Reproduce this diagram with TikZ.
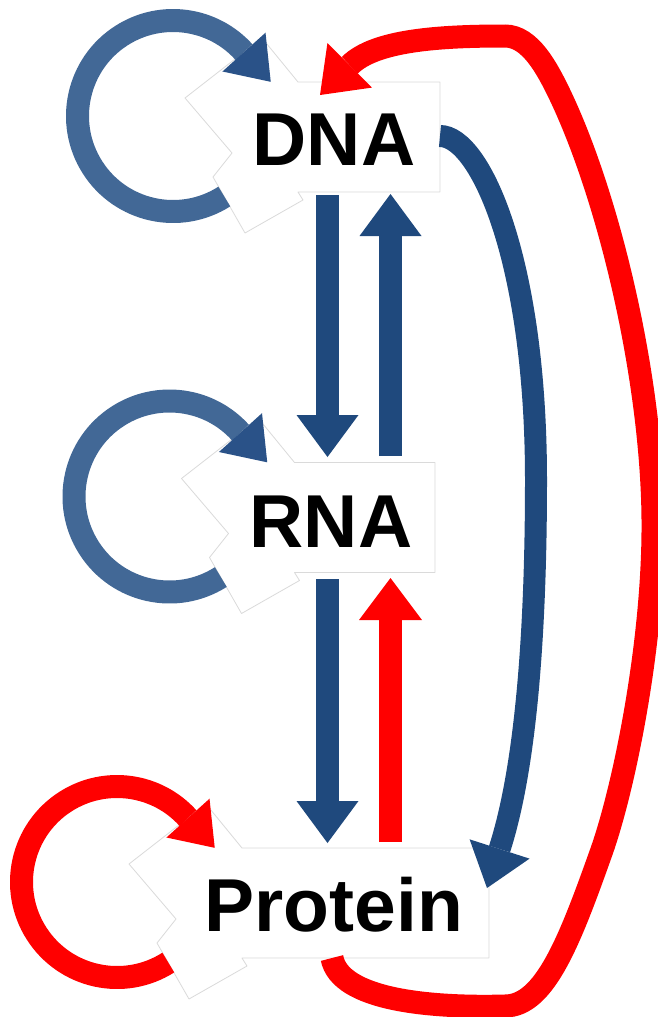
\documentclass[tikz,border=0pt]{standalone}
\usepackage{fontspec}
\setmainfont{Liberation Sans}
\usetikzlibrary{arrows.meta,calc}
\definecolor{dblue}{RGB}{31,73,125}
\definecolor{lblue}{RGB}{66,104,150}
\definecolor{lbluehead}{RGB}{42,82,136}
\definecolor{pred}{RGB}{255,0,0}
\definecolor{edgegray}{RGB}{218,218,218}
\begin{document}
\begin{tikzpicture}[x=1pt,y=-1pt,
  lab/.style={font=\fontsize{75}{80}\selectfont\bfseries, inner sep=0pt, anchor=base west, text=black},
  outline/.style={fill=white, draw=edgegray, line width=0.8pt, line join=round},
  thick23/.style={line width=23pt},
  bluehead/.style={-{Triangle[length=42pt,width=62pt,line width=0pt]}},
  redhead/.style={-{Triangle[length=42pt,width=63pt,line width=0pt]}},
  loophead/.style={-{Triangle[length=40pt,width=58pt,line width=0pt,color=#1]}}
]
\useasboundingbox (0,0) rectangle (657,1017);

% loop centres
\coordinate (c1) at (173,116);
\coordinate (c2) at (169.5,496.5);
\coordinate (c3) at (117,882);

% white label boxes with their faint outlines
\draw[outline, shift={(173,116)}] (12,-18) -- (89,-78) -- (125,-34) -- (267,-34) -- (267,76) -- (125,76) -- (130,84) -- (72,117) -- (40,61) -- (59,37) -- cycle;
\draw[outline, shift={(169.5,496.5)}] (12,-18) -- (89,-78) -- (125,-34) -- (265.5,-34) -- (265.5,76) -- (125,76) -- (130,84) -- (72,117) -- (40,61) -- (59,37) -- cycle;
\draw[outline, shift={(117,882)}] (12,-18) -- (89,-78) -- (125,-34) -- (372,-34) -- (372,76) -- (125,76) -- (130,84) -- (72,117) -- (40,61) -- (59,37) -- cycle;

% labels
\node[lab] (dna) at (252.5,165) {DNA};
\node[lab] (rna) at (249.5,547) {RNA};
\node[lab] (prot) at (204.5,931) {Protein};

% self loops
\draw[thick23, lblue, loophead=lbluehead] ($(c1)+(57.5:95.5)$) arc[start angle=57.5, end angle=318, radius=95.5] -- ++(48:40);
\draw[thick23, lblue, loophead=lbluehead] ($(c2)+(57.5:95.5)$) arc[start angle=57.5, end angle=318, radius=95.5] -- ++(48:40);
\draw[thick23, pred, loophead=pred] ($(c3)+(57.5:95.5)$) arc[start angle=57.5, end angle=318, radius=95.5] -- ++(48:40);

% connector end points
\coordinate (dnaS) at (327.5,195);
\coordinate (rnaN1) at (327.5,457);
\coordinate (rnaN2) at (390.5,456);
\coordinate (dnaS2) at (390.5,194);
\coordinate (rnaS1) at (327.5,579);
\coordinate (protN1) at (327.5,843);
\coordinate (protN2) at (390.5,842);
\coordinate (rnaS2) at (390.5,578);
\coordinate (dnaE) at (440,136);
\coordinate (protE) at (487,888);
\coordinate (protS) at (332,958);
\coordinate (dnaN) at (320,95);

% straight arrows
\draw[thick23, dblue, bluehead] (dnaS) -- (rnaN1);
\draw[thick23, dblue, bluehead] (rnaN2) -- (dnaS2);
\draw[thick23, dblue, bluehead] (rnaS1) -- (protN1);
\draw[thick23, pred, redhead] (protN2) -- (rnaS2);

% DNA -> Protein
\draw[line width=22pt, dblue, -{Triangle[length=41pt,width=63pt,line width=0pt]}]
  (dnaE) .. controls (480,136) and (536,260) .. (536,480)
  .. controls (536,640) and (525,770) .. (protE);

% Protein -> DNA
\draw[thick23, pred, redhead]
  (protS) .. controls (340,1000) and (430,1008) .. (505,1006)
  .. controls (545,1006) and (570,940) .. (602,850)
  .. controls (625,784) and (654,640) .. (653,520)
  .. controls (652,380) and (610,200) .. (560,95)
  .. controls (547,68) and (530,36) .. (505,36)
  .. controls (440,36) and (375,40) .. (dnaN);
\end{tikzpicture}
\end{document}
